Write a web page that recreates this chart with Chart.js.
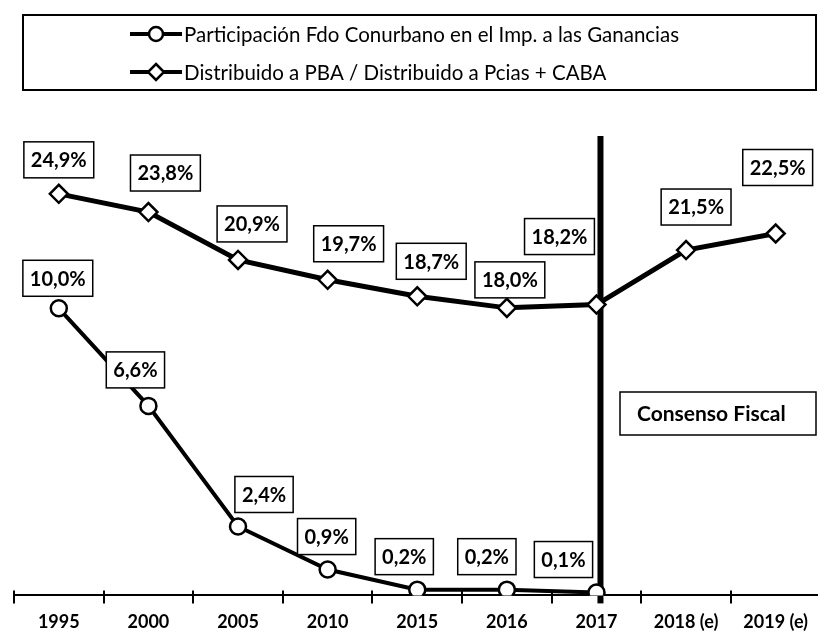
<!DOCTYPE html>
<html lang="es">
<head>
  <meta charset="UTF-8">
  <title>Fondo Conurbano</title>
  <script src="https://cdn.jsdelivr.net/npm/chart.js"></script>
  <style>
    html, body { margin: 0; padding: 0; overflow: hidden; background: #fff; }
    #chart { display: block; }
  </style>
</head>
<body>
  <canvas id="chart" width="832" height="641"></canvas>

  <script>
    // datos
    const years = ['1995', '2000', '2005', '2010', '2015', '2016', '2017', '2018 (e)', '2019 (e)'];
    const fondoConurbano = [10.0, 6.6, 2.4, 0.9, 0.2, 0.2, 0.1, null, null];
    const distribuidoPBA = [24.9, 23.8, 20.9, 19.7, 18.7, 18.0, 18.2, 21.5, 22.5];
    const seriesNames = [
      'Participación Fdo Conurbano en el Imp. a las Ganancias',
      'Distribuido a PBA / Distribuido a Pcias + CABA'
    ];
    const markerYear = '2017';
    const markerText = 'Consenso Fiscal';

    // desplazamiento de cada etiqueta respecto de su punto
    const offsetsConurbano = [[-1, -30], [-13, -36], [26, -32], [-1, -33], [-13, -33], [-20, -33], [-33, -33]];
    const offsetsPBA = [[0, -34], [17, -39], [14, -36], [21, -36], [14, -35], [3, -28], [-37, -68], [10, -43], [2, -66]];

    const labelFont = 'bold 20px Lato';

    function fmt(v) {
      return v.toFixed(1).replace('.', ',') + '%';
    }

    const chartDecor = {
      id: 'chartDecor',
      beforeDatasetsDraw(chart) {
        const ctx = chart.ctx;
        const xs = chart.scales.x;
        const area = chart.chartArea;
        ctx.save();
        // marcas del eje x que cruzan la linea
        const step = xs.getPixelForValue(1) - xs.getPixelForValue(0);
        ctx.strokeStyle = '#000';
        ctx.lineWidth = 2;
        for (let i = 0; i <= years.length; i++) {
          const gx = Math.round(xs.getPixelForValue(i) - step / 2);
          ctx.beginPath();
          ctx.moveTo(gx, area.bottom - 5);
          ctx.lineTo(gx, area.bottom);
          ctx.stroke();
        }
        // linea vertical 2017
        const x = xs.getPixelForValue(years.indexOf(markerYear)) + 4;
        ctx.fillStyle = '#000';
        ctx.fillRect(x - 3, area.top, 6, area.bottom - area.top + 8);
        // caja Consenso Fiscal
        ctx.lineWidth = 1.5;
        ctx.fillStyle = '#fff';
        ctx.fillRect(620, 392, 196, 43);
        ctx.strokeRect(620, 392, 196, 43);
        ctx.fillStyle = '#000';
        ctx.font = 'bold 21px Lato';
        ctx.textBaseline = 'middle';
        ctx.fillText(markerText, 637, 414);
        ctx.restore();
      },
      afterDatasetsDraw(chart) {
        const ctx = chart.ctx;
        ctx.save();
        ctx.font = labelFont;
        ctx.textAlign = 'center';
        ctx.textBaseline = 'middle';
        const sets = [[0, fondoConurbano, offsetsConurbano], [1, distribuidoPBA, offsetsPBA]];
        sets.forEach(([di, values, offs]) => {
          const meta = chart.getDatasetMeta(di);
          values.forEach((v, i) => {
            if (v === null) return;
            const pt = meta.data[i];
            const cx = pt.x + offs[i][0];
            const cy = pt.y + offs[i][1];
            const txt = fmt(v);
            const w = ctx.measureText(txt).width + 14;
            const h = 36;
            ctx.fillStyle = '#fff';
            ctx.fillRect(cx - w / 2, cy - h / 2, w, h);
            ctx.strokeStyle = '#000';
            ctx.lineWidth = 1.5;
            ctx.strokeRect(cx - w / 2, cy - h / 2, w, h);
            ctx.fillStyle = '#000';
            ctx.fillText(txt, cx, cy + 1);
          });
        });
        ctx.restore();

        // leyenda
        ctx.save();
        ctx.strokeStyle = '#000';
        ctx.lineWidth = 2;
        ctx.strokeRect(23, 15, 793, 75);
        const rows = [34, 72];
        rows.forEach((y, i) => {
          ctx.lineWidth = 4;
          ctx.beginPath();
          ctx.moveTo(130, y);
          ctx.lineTo(182, y);
          ctx.stroke();
          ctx.fillStyle = '#fff';
          ctx.lineWidth = 2.5;
          ctx.beginPath();
          if (i === 0) {
            ctx.arc(156, y, 7, 0, Math.PI * 2);
          } else {
            ctx.moveTo(156, y - 8);
            ctx.lineTo(164, y);
            ctx.lineTo(156, y + 8);
            ctx.lineTo(148, y);
            ctx.closePath();
          }
          ctx.fill();
          ctx.stroke();
          ctx.fillStyle = '#000';
          ctx.font = '20.5px Lato';
          ctx.textBaseline = 'middle';
          ctx.fillText(seriesNames[i], 184, y + 1);
        });
        ctx.restore();
      }
    };

    new Chart(document.getElementById('chart'), {
      type: 'line',
      data: {
        labels: years,
        datasets: [{
          label: seriesNames[0],
          data: fondoConurbano,
          yAxisID: 'y',
          borderColor: '#000',
          borderWidth: 4,
          pointStyle: 'circle',
          pointRadius: 8,
          pointBorderWidth: 2.5,
          pointBackgroundColor: '#fff',
          pointBorderColor: '#000',
          tension: 0
        }, {
          label: seriesNames[1],
          data: distribuidoPBA,
          yAxisID: 'y2',
          borderColor: '#000',
          borderWidth: 5,
          pointStyle: 'rectRot',
          pointRadius: 9,
          pointBorderWidth: 2.5,
          pointBackgroundColor: '#fff',
          pointBorderColor: '#000',
          tension: 0
        }]
      },
      options: {
        responsive: false,
        animation: false,
        layout: { padding: { top: 136, left: 14, right: 4.5, bottom: 0 } },
        plugins: {
          legend: { display: false },
          tooltip: { enabled: false }
        },
        scales: {
          x: {
            offset: true,
            grid: {
              offset: true,
              drawOnChartArea: false,
              color: '#000',
              lineWidth: 2,
              tickLength: 8
            },
            border: { display: true, color: '#000', width: 2 },
            ticks: {
              color: '#000',
              padding: 8,
              maxRotation: 0,
              font: { family: 'Lato', size: 18, weight: 'bold' }
            }
          },
          y: { display: false, min: 0, max: 16 },
          y2: { display: false, min: 0.6, max: 28.4 }
        }
      },
      plugins: [chartDecor]
    });
  </script>
</body>
</html>
